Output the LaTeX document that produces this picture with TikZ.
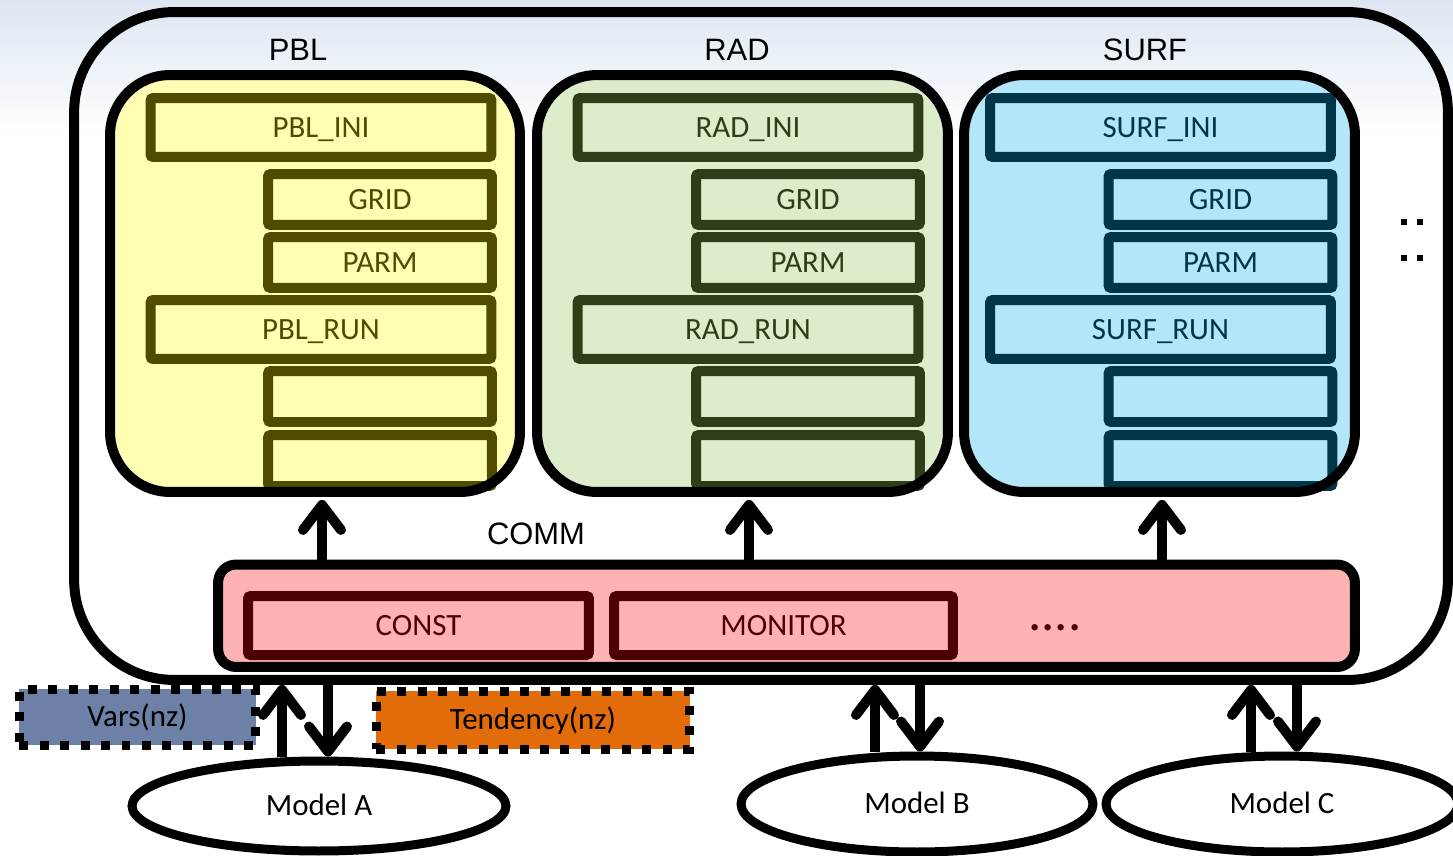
\documentclass[tikz,border=0pt]{standalone}
\usepackage{fontspec}
\setmainfont{Carlito}
\newfontfamily\arialfont{Liberation Sans}
\usepackage{tikz}
\usetikzlibrary{shapes.geometric}
\usetikzlibrary{arrows.meta}
\definecolor{bgtop}{RGB}{220,230,242}
\definecolor{pblfill}{RGB}{255,255,180}
\definecolor{pbldraw}{RGB}{79,75,0}
\definecolor{radfill}{RGB}{221,237,204}
\definecolor{raddraw}{RGB}{46,62,24}
\definecolor{surffill}{RGB}{178,230,248}
\definecolor{surfdraw}{RGB}{0,54,72}
\definecolor{commfill}{RGB}{255,178,178}
\definecolor{commdraw}{RGB}{77,0,0}
\definecolor{varsfill}{RGB}{108,129,165}
\definecolor{tendfill}{RGB}{227,108,10}
\tikzset{
	outerbox/.style={draw=black, line width=0.2cm, rounded corners=2cm, inner sep=0pt, minimum width=27.48cm, minimum height=13.36cm},
	modbox/.style={rounded corners=1.2cm, inner sep=0pt, outer sep=0pt, minimum height=8.34cm},
	modrim/.style={draw=black, line width=0.2cm, rounded corners=1.2cm},
	unitbox/.style={line width=0.2cm, rounded corners=1.5pt, inner sep=0pt, font=\fontsize{17.6}{21}\selectfont, text height=13.2pt, text depth=2.1pt},
	widebox/.style={minimum width=6.82cm, minimum height=1.18cm},
	narrowbox/.style={minimum width=4.48cm, minimum height=1.02cm},
	pblunit/.style={unitbox, draw=pbldraw, text=pbldraw},
	radunit/.style={unitbox, draw=raddraw, text=raddraw},
	surfunit/.style={unitbox, draw=surfdraw, text=surfdraw},
	communit/.style={unitbox, draw=commdraw, text=commdraw, minimum height=1.18cm},
	modtitle/.style={font=\arialfont\fontsize{17.6}{21}\selectfont, text height=12.6pt, text depth=0pt, inner sep=0pt},
	dotbox/.style={draw=black, line width=0.18cm, dash pattern=on 0.18cm off 0.23cm, inner sep=0pt, font=\fontsize{17.6}{21}\selectfont, text height=11.1pt, text depth=0pt},
	model/.style={ellipse, draw=black, line width=0.18cm, fill=white, inner sep=0pt, font=\fontsize{17.6}{21}\selectfont, text height=11.1pt, text depth=0pt},
	flow/.style={line width=0.2cm, -{Straight Barb[length=0.5cm, width=0.76cm, round]}}
}
\begin{document}
\begin{tikzpicture}[x=0.02cm, y=-0.02cm]
	\useasboundingbox (0,0) rectangle (1453,855);
	\fill[white] (0,0) rectangle (1453,855);
	\shade[top color=bgtop, bottom color=white] (0,0) rectangle (1453,135);
	
	\node[outerbox] (frame) at (761,346) {};
	
	% physics packages
	\node[modbox, fill=pblfill, minimum width=8.2cm] (pbl) at (315,283.5) {};
	\node[modbox, fill=radfill, minimum width=8.22cm] (rad) at (742.5,283.5) {};
	\node[modbox, fill=surffill, minimum width=7.82cm] (surf) at (1159.5,283.5) {};
	\node[modtitle] (pbltitle) at (298,49.5) {PBL};
	\node[modtitle] (radtitle) at (737,49.5) {RAD};
	\node[modtitle] (surftitle) at (1145,49.5) {SURF};
	
	\node[pblunit, widebox] (pblini) at (321,127.5) {PBL\_INI};
	\node[pblunit, narrowbox] (pblgrid) at (380,199.5) {GRID};
	\node[pblunit, narrowbox] (pblparm) at (380,262.5) {PARM};
	\node[pblunit, widebox] (pblrun) at (321,329.5) {PBL\_RUN};
	\node[pblunit, narrowbox] (pblsuba) at (380,396.5) {};
	\node[pblunit, narrowbox] (pblsubb) at (380,460.5) {};
	
	\node[radunit, widebox] (radini) at (748,127.5) {RAD\_INI};
	\node[radunit, narrowbox] (radgrid) at (808,199.5) {GRID};
	\node[radunit, narrowbox] (radparm) at (808,262.5) {PARM};
	\node[radunit, widebox] (radrun) at (748,329.5) {RAD\_RUN};
	\node[radunit, narrowbox] (radsuba) at (808,396.5) {};
	\node[radunit, narrowbox] (radsubb) at (808,460.5) {};
	
	\node[surfunit, widebox] (surfini) at (1160.5,127.5) {SURF\_INI};
	\node[surfunit, narrowbox] (surfgrid) at (1220.5,199.5) {GRID};
	\node[surfunit, narrowbox] (surfparm) at (1220.5,262.5) {PARM};
	\node[surfunit, widebox] (surfrun) at (1160.5,329.5) {SURF\_RUN};
	\node[surfunit, narrowbox] (surfsuba) at (1220.5,396.5) {};
	\node[surfunit, narrowbox] (surfsubb) at (1220.5,460.5) {};
	
	\draw[modrim] (pbl.south west) rectangle (pbl.north east);
	\draw[modrim] (rad.south west) rectangle (rad.north east);
	\draw[modrim] (surf.south west) rectangle (surf.north east);
	
	\fill (1401,219) rectangle +(6,6);
	\fill (1417,219) rectangle +(6,6);
	\fill (1401,255) rectangle +(6,6);
	\fill (1417,255) rectangle +(6,6);
	
	% communication layer
	\node[modtitle] (commtitle) at (536,533) {COMM};
	\node[draw=black, fill=commfill, line width=0.2cm, rounded corners=0.36cm, minimum width=22.74cm, minimum height=2.05cm] (comm) at (786.5,615.75) {};
	\node[communit, minimum width=6.82cm] (const) at (418.5,625.5) {CONST};
	\node[communit, minimum width=6.78cm] (monitor) at (783.5,625.5) {MONITOR};
	\node[text=commdraw, font=\fontsize{30}{36}\selectfont, inner sep=0pt] (commmore) at (1055,628) {....};
	
	\draw[flow] ([xshift=0.14cm]pbl.south |- comm.north) -- ([xshift=0.14cm, yshift=-0.16cm]pbl.south);
	\draw[flow] ([xshift=0.13cm]rad.south |- comm.north) -- ([xshift=0.13cm, yshift=-0.16cm]rad.south);
	\draw[flow] ([xshift=0.05cm]surf.south |- comm.north) -- ([xshift=0.05cm, yshift=-0.16cm]surf.south);
	
	% host models
	\node[dotbox, fill=varsfill, minimum width=4.74cm, minimum height=1.12cm] (vars) at (137.5,717) {Vars(nz)};
	\node[dotbox, fill=tendfill, minimum width=6.28cm, minimum height=1.16cm] (tend) at (533,720) {Tendency(nz)};
	
	\node[model, minimum width=7.48cm, minimum height=1.8cm] (modela) at (319,806) {Model A};
	\node[model, minimum width=7.04cm, minimum height=1.92cm] (modelb) at (917,804) {Model B};
	\node[model, minimum width=7.04cm, minimum height=1.92cm] (modelc) at (1282,804) {Model C};
	
	\draw[flow] ([xshift=-0.74cm]modela.north) -- ([xshift=-0.74cm]modela.north |- frame.south);
	\draw[flow] ([xshift=0.18cm]modela.north |- frame.south) -- ([xshift=0.18cm]modela.north);
	\draw[flow] ([xshift=-0.84cm]modelb.north) -- ([xshift=-0.84cm]modelb.north |- frame.south);
	\draw[flow] ([xshift=0.06cm]modelb.north |- frame.south) -- ([xshift=0.06cm]modelb.north);
	\draw[flow] ([xshift=-0.62cm]modelc.north) -- ([xshift=-0.62cm]modelc.north |- frame.south);
	\draw[flow] ([xshift=0.3cm]modelc.north |- frame.south) -- ([xshift=0.3cm]modelc.north);
\end{tikzpicture}
\end{document}
